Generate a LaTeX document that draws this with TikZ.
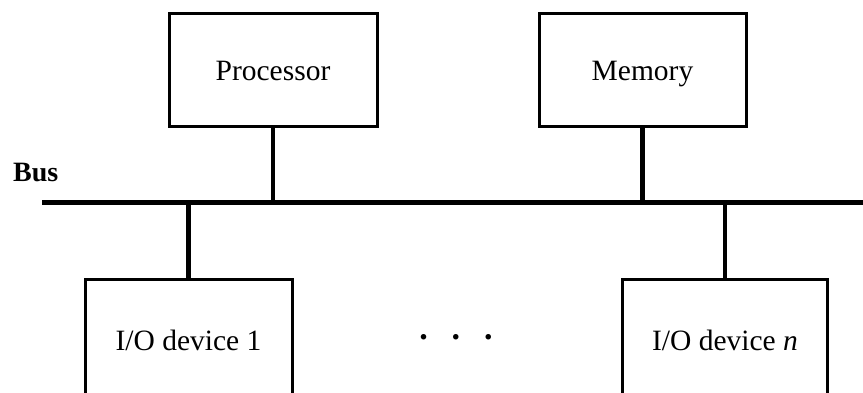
\documentclass[tikz,border=0pt]{standalone}
\usepackage{fontspec}
\setmainfont{Liberation Serif}
\usetikzlibrary{positioning}

\begin{document}
\begin{tikzpicture}[
  x=1pt, y=-1pt,
  unit/.style={draw=black, line width=3pt, minimum width=207pt, minimum height=113pt, align=center, text height=23pt, text depth=2pt, font=\fontsize{29.5}{34}\selectfont},
  link/.style={line width=4.5pt},
]
\useasboundingbox (0,0) rectangle (863,392);
\clip (0,0) rectangle (863,392);
% top row
\node[unit, minimum width=208pt] (proc) at (273,69.5) {Processor};
\node[unit] (mem) at (642.5,69.5) {Memory};
% bus
\coordinate (busL) at (42,202);
\coordinate (busR) at (870,202);
\draw[line width=5pt] (busL) -- (busR);
\node[font=\fontsize{28}{34}\selectfont\bfseries, anchor=south west, inner sep=0pt] (buslbl) at (13,182.5) {Bus};
% bottom row, cut off by the page edge
\node[unit, minimum height=122pt] (io1) at (188.5,340) {I/O device 1};
\node[unit, minimum height=122pt, minimum width=205pt] (ion) at (725,340) {I/O device \textit{n}};
\node[font=\fontsize{34}{34}\selectfont\bfseries, anchor=base] (dots) at (456,339) {.\hspace{24pt}.\hspace{24pt}.};
\draw[link] (proc.south) -- (proc.south |- busL);
\draw[link] (mem.south) -- (mem.south |- busL);
\draw[link] (io1.north |- busL) -- (io1.north);
\draw[link] (ion.north |- busL) -- (ion.north);
\end{tikzpicture}
\end{document}
